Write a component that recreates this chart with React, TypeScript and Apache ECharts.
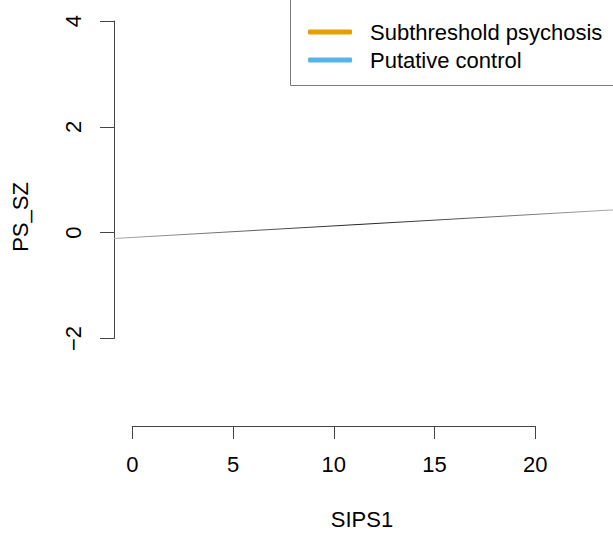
import React, { useEffect, useRef } from "react";
import * as echarts from "echarts";

const xTicks = [0, 5, 10, 15, 20];
const yTicks = [-2, 0, 2, 4];
const fitX = [-0.9, 23.86];
const fitY = [-0.11, 0.43];
const groupNames = ["Subthreshold psychosis", "Putative control"];
const groupColors = ["#E69F00", "#56B4E9"];
const xName = "SIPS1";
const yName = "PS_SZ";

const FONT = "'Liberation Sans', Arial, Helvetica, sans-serif";
const AXIS = "#444";
const minus = (v: number) => String(v).replace("-", "\u2212");

export default function App() {
  const ref = useRef<HTMLDivElement>(null);
  useEffect(() => {
    if (!ref.current) return;
    const chart = echarts.init(ref.current, null, { renderer: "svg" });
    const fit = fitX.map((x, i) => [x, fitY[i]]);
    chart.setOption({
      animation: false,
      backgroundColor: "#fff",
      textStyle: { fontFamily: FONT },
      grid: [
        { left: 114, top: 21, width: 499, height: 317.5 },
        { left: 132.3, top: 420, width: 403, height: 6 },
      ],
      xAxis: [
        { gridIndex: 0, type: "value", min: fitX[0], max: fitX[1], show: false, axisLine: { onZero: false } },
        {
          gridIndex: 1,
          type: "value",
          min: xTicks[0],
          max: xTicks[xTicks.length - 1],
          interval: 5,
          position: "bottom",
          axisLine: { show: true, onZero: false, lineStyle: { color: AXIS, width: 1 } },
          axisTick: { show: true, length: 13, lineStyle: { color: AXIS, width: 1 } },
          axisLabel: { margin: 27, fontSize: 22, color: "#000", fontFamily: FONT, formatter: minus },
          splitLine: { show: false },
        },
      ],
      yAxis: [
        {
          gridIndex: 0,
          type: "value",
          min: yTicks[0],
          max: yTicks[yTicks.length - 1],
          interval: 2,
          position: "left",
          axisLine: { show: true, onZero: false, lineStyle: { color: AXIS, width: 1 } },
          axisTick: { show: true, length: 14, lineStyle: { color: AXIS, width: 1 } },
          axisLabel: { margin: 30, fontSize: 22, color: "#000", rotate: 90, fontFamily: FONT, formatter: minus },
          splitLine: { show: false },
        },
        { gridIndex: 1, type: "value", show: false, axisLine: { onZero: false } },
      ],
      legend: {
        data: groupNames,
        orient: "vertical",
        left: 308,
        top: 21,
        padding: 0,
        itemWidth: 44,
        itemHeight: 5,
        itemGap: 6,
        icon: "roundRect",
        textStyle: { fontSize: 22, color: "#000", fontFamily: FONT, lineHeight: 22, padding: [0, 0, 0, 13] },
      },
      graphic: [
        {
          type: "rect",
          shape: { x: 290.5, y: -10, width: 340, height: 95.5 },
          style: { fill: "none", stroke: "#777", lineWidth: 1 },
          z: 10,
        },
        {
          type: "text",
          x: 362,
          y: 519,
          style: { text: xName, fill: "#000", font: `22px ${FONT}`, align: "center", verticalAlign: "middle" },
        },
        {
          type: "text",
          x: 20,
          y: 217,
          rotation: Math.PI / 2,
          style: { text: yName, fill: "#000", font: `22px ${FONT}`, align: "center", verticalAlign: "middle" },
        },
      ],
      series: [
        {
          type: "line",
          xAxisIndex: 0,
          yAxisIndex: 0,
          data: fit,
          symbol: "none",
          lineStyle: {
            width: 1,
            color: new echarts.graphic.LinearGradient(0, 0, 1, 0, [
              { offset: 0, color: "#aaa" },
              { offset: 0.5, color: "#222" },
              { offset: 1, color: "#aaa" },
            ]),
          },
        },
        ...groupNames.map((n, i) => ({
          name: n,
          type: "line",
          xAxisIndex: 0,
          yAxisIndex: 0,
          data: [],
          color: groupColors[i],
          itemStyle: { color: groupColors[i] },
          lineStyle: { color: groupColors[i], width: 5 },
        })),
      ],
    });
    return () => chart.dispose();
  }, []);
  return <div ref={ref} style={{ position: "fixed", left: 0, top: 0, width: 613, height: 535 }} />;
}
